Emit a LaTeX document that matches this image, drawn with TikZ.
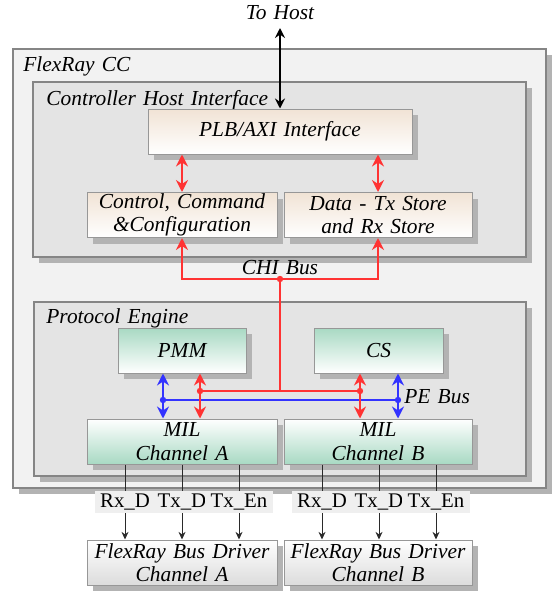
\documentclass[tikz,border=0pt]{standalone}
\usepackage{fontspec}
\setmainfont{Liberation Serif}
\usetikzlibrary{arrows.meta,shadows}
\definecolor{boxgray}{HTML}{858585}
\definecolor{shadowgray}{HTML}{B3B3B3}
\definecolor{outerfill}{HTML}{F2F2F2}
\definecolor{innerfill}{HTML}{E4E4E4}
\definecolor{peach}{HTML}{F1E3D5}
\definecolor{mint}{HTML}{A8D9C3}
\definecolor{drvgray}{HTML}{DCDCDC}
\definecolor{busred}{HTML}{FF3333}
\definecolor{busblue}{HTML}{3333FF}
\definecolor{siggray}{HTML}{EFEFEF}
\definecolor{sigline}{HTML}{2A2A2A}
\newcommand\myitfont{\fontsize{10.7}{11.6}\selectfont\itshape\spaceskip=3.6pt plus 1pt\relax}
\tikzset{
  every node/.style={font=\fontsize{10.7}{11.6}\selectfont},
  shad/.style={drop shadow={shadow xshift=3pt,shadow yshift=-3pt,fill=shadowgray,opacity=1}},
  container/.style={shad, draw=boxgray, line width=1pt, inner sep=0pt},
  ititle/.style={anchor=base west, inner sep=0pt, font=\myitfont},
  block/.style={shad, draw=boxgray!85, line width=0.5pt, inner sep=0pt, align=center,
    font=\myitfont, minimum height=22.5pt},
  hostblock/.style={block, top color=peach, bottom color=white},
  peblock/.style={block, top color=mint, bottom color=white},
  milblock/.style={block, top color=white, bottom color=mint},
  drvblock/.style={block, top color=white, bottom color=drvgray},
  redbus/.style={draw=busred, line width=1.3pt},
  bluebus/.style={draw=busblue, line width=1.3pt},
  tipbig/.tip={Stealth[length=6pt,width=6pt,inset=2pt]},
  redarrow/.style={redbus, tipbig-tipbig},
  bluearrow/.style={bluebus, tipbig-tipbig},
  hostarrow/.style={draw=black, line width=0.9pt, {Stealth[length=5pt,width=5pt,inset=1.7pt]}-{Stealth[length=5pt,width=5pt,inset=1.7pt]}},
  sig/.style={fill=siggray, inner xsep=2.6pt, inner ysep=0pt, minimum height=11pt, font=\fontsize{10.4}{11.6}\selectfont},
  sigwire/.style={draw=sigline, line width=0.5pt},
  sigarrow/.style={sigwire, -{Stealth[length=3.8pt,width=3.5pt,inset=1.2pt]}},
  dotr/.style={fill=busred},
  dotb/.style={fill=busblue},
}
\begin{document}
\begin{tikzpicture}[x=0.5pt,y=-0.5pt]
\useasboundingbox (0,0) rectangle (553,595);

% containers
\node[container, fill=outerfill, minimum width=266.5pt, minimum height=219.5pt] (cc) at (279.5,268) {};
\node[container, fill=innerfill, minimum width=246.5pt, minimum height=87.5pt] (chi) at (279.5,169.5) {};
\node[container, fill=innerfill, minimum width=246pt, minimum height=87pt] (pe) at (280,389) {};

\node[ititle] (cctitle) at (23,71.5) {FlexRay CC};
\node[ititle] (chititle) at (46,105) {Controller Host Interface};
\node[ititle] (petitle) at (46,323.5) {Protocol Engine};

% host interface blocks
\node[hostblock, minimum width=132pt] (plb) at (280,131.5) {PLB/AXI Interface};
\node[hostblock, minimum width=95pt] (ctrl) at (182,215) {Control, Command\\\&Configuration};
\node[hostblock, minimum width=94pt] (data) at (378,215) {Data - Tx Store\\and Rx Store};

% protocol engine blocks
\node[peblock, minimum width=64pt] (pmm) at (182,350.5) {PMM};
\node[peblock, minimum width=64.5pt] (cs) at (378.5,350.5) {CS};
\node[milblock, minimum width=95pt] (mila) at (182,441.5) {MIL\\Channel A};
\node[milblock, minimum width=94pt] (milb) at (378,441.5) {MIL\\Channel B};

% drivers
\node[drvblock, minimum width=95pt] (drva) at (182,562.5) {FlexRay Bus Driver\\Channel A};
\node[drvblock, minimum width=94pt] (drvb) at (378,562.5) {FlexRay Bus Driver\\Channel B};

% to host
\node[anchor=base, inner sep=0pt, font=\myitfont] (tohost) at (280,19.5) {To Host};
\coordinate (hosttop) at (280,28);
\draw[hostarrow] (hosttop) -- (plb.north);

% CHI internal arrows
\draw[redarrow] (plb.south -| ctrl) -- (ctrl.north);
\draw[redarrow] (plb.south -| data) -- (data.north);

% CHI bus
\coordinate (chij) at (280,279);
\draw[redbus, -tipbig] (chij) -| (ctrl.south);
\draw[redbus, -tipbig] (chij) -| (data.south);
\node[anchor=base, inner sep=0pt, font=\myitfont] (chilabel) at (280,274.5) {CHI Bus};
\coordinate (pej) at (280,391);
\draw[redbus] (chij) -- (pej);
\fill[dotr] (chij) circle (1.6pt);

% PE bus
\coordinate (rA) at (200,391);
\coordinate (rB) at (360,391);
\coordinate (bA) at (163,400);
\coordinate (bB) at (398,400);
\draw[redbus] (rA) -- (rB);
\draw[bluebus] (bA) -- (bB);
\draw[redarrow] (pmm.south -| rA) -- (mila.north -| rA);
\draw[redarrow] (cs.south -| rB) -- (milb.north -| rB);
\draw[bluearrow] (pmm.south -| bA) -- (mila.north -| bA);
\draw[bluearrow] (cs.south -| bB) -- (milb.north -| bB);
\fill[dotr] (rA) circle (1.6pt);
\fill[dotr] (rB) circle (1.6pt);
\fill[dotb] (bA) circle (1.6pt);
\fill[dotb] (bB) circle (1.6pt);
\node[anchor=base west, inner sep=0pt, font=\myitfont] (pelabel) at (404,403) {PE Bus};

% signals
\node[sig] (rxa) at (125,502) {Rx\_D};
\node[sig] (txa) at (182,502) {Tx\_D};
\node[sig] (ena) at (239,502) {Tx\_En};
\node[sig] (rxb) at (322,502) {Rx\_D};
\node[sig] (txb) at (379,502) {Tx\_D};
\node[sig] (enb) at (436,502) {Tx\_En};
\foreach \s/\m/\d in {rxa/mila/drva, txa/mila/drva, ena/mila/drva, rxb/milb/drvb, txb/milb/drvb, enb/milb/drvb}{
  \draw[sigwire] (\m.south -| \s) -- (\s.north);
  \draw[sigarrow] (\s.south) -- (\d.north -| \s);
}
\end{tikzpicture}
\end{document}
